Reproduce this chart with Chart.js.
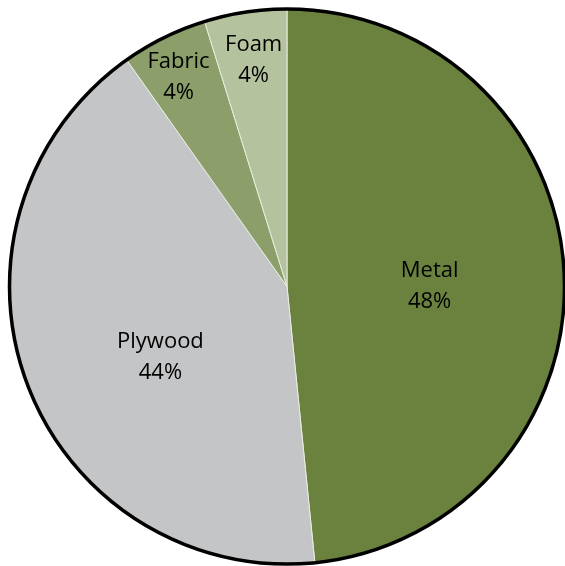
<!DOCTYPE html>
<html>
<head>
<meta charset="utf-8">
<script src="https://cdn.jsdelivr.net/npm/chart.js@4.4.1/dist/chart.umd.min.js"></script>
<style>
  html, body { margin: 0; padding: 0; background: #ffffff; }
  #wrap { width: 565px; height: 566px; }
</style>
</head>
<body>
<div id="wrap"><canvas id="materialsChart"></canvas></div>
<script>
// Material shares, clockwise from 12 o'clock
const materials = ['Metal', 'Plywood', 'Fabric', 'Foam'];
const shares = [48.4, 41.8, 5.0, 4.8];
const shareLabels = ['48%', '44%', '4%', '4%'];

const sliceColors = ['#6b823f', '#c4c5c7', '#8c9e6a', '#b5c29e'];
// label placement: [angle in degrees clockwise from top, fraction of radius]
const labelPlacement = [[90, 0.514], [240.7, 0.523], [332.6, 0.849], [351.6, 0.823]];

// black rim around the whole pie
const rimPlugin = {
    id: 'rim',
    afterDatasetsDraw(chart) {
        const arc = chart.getDatasetMeta(0).data[0];
        const ctx = chart.ctx;
        ctx.save();
        ctx.beginPath();
        ctx.arc(arc.x, arc.y, arc.outerRadius, 0, Math.PI * 2);
        ctx.lineWidth = 3.5;
        ctx.strokeStyle = '#000000';
        ctx.stroke();
        ctx.restore();
    }
};

// two-line labels inside the slices
const sliceLabelPlugin = {
    id: 'sliceLabels',
    afterDraw(chart) {
        const arc = chart.getDatasetMeta(0).data[0];
        const ctx = chart.ctx;
        ctx.save();
        ctx.font = '22px "Open Sans", "Noto Sans", sans-serif';
        ctx.fillStyle = '#000000';
        ctx.textAlign = 'center';
        ctx.textBaseline = 'middle';
        materials.forEach((name, i) => {
            const angle = labelPlacement[i][0] * Math.PI / 180;
            const r = arc.outerRadius * labelPlacement[i][1];
            const x = arc.x + r * Math.sin(angle);
            const y = arc.y - r * Math.cos(angle);
            ctx.fillText(name, x, y - 15.5);
            ctx.fillText(shareLabels[i], x, y + 15.5);
        });
        ctx.restore();
    }
};

const ctx = document.getElementById('materialsChart').getContext('2d');
const materialsChart = new Chart(ctx, {
    type: 'pie',
    data: {
        labels: materials,
        datasets: [{
            data: shares,
            backgroundColor: sliceColors,
            borderColor: '#e8ecdf',
            borderWidth: 1
        }]
    },
    options: {
        responsive: true,
        maintainAspectRatio: false,
        animation: false,
        layout: {
            padding: { left: 9, right: 0, top: 8, bottom: 1 }
        },
        plugins: {
            legend: { display: false },
            tooltip: { enabled: false }
        }
    },
    plugins: [rimPlugin, sliceLabelPlugin]
});
</script>
</body>
</html>
